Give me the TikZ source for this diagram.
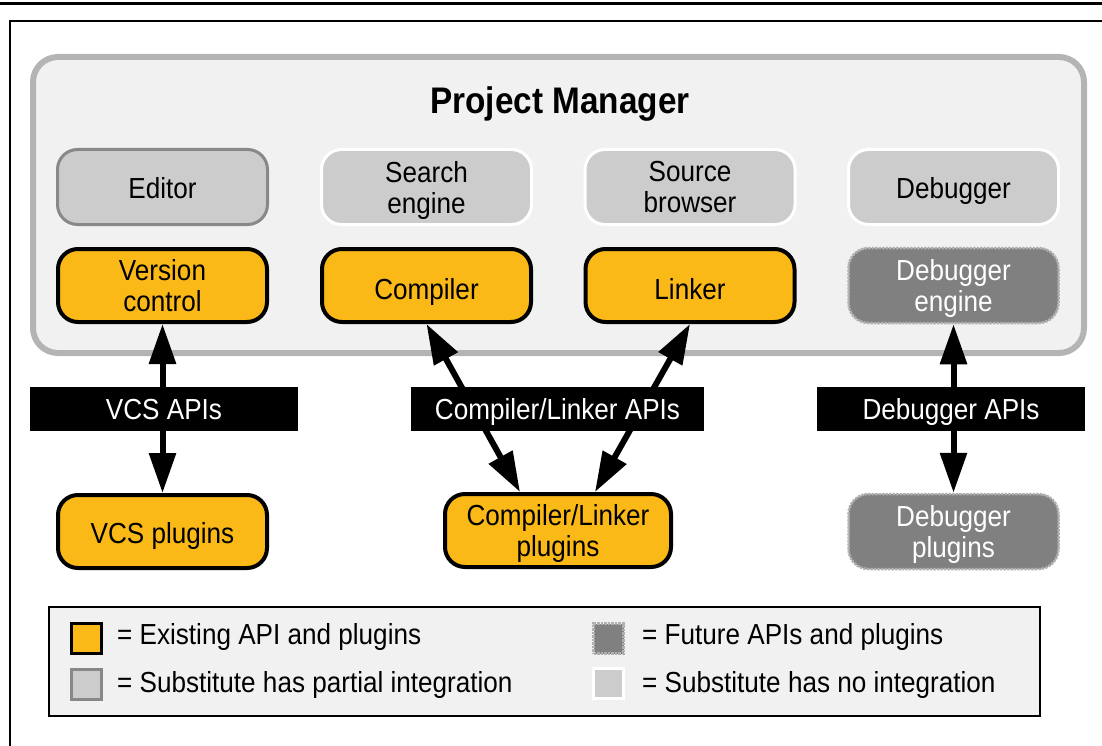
\documentclass[tikz,border=0pt]{standalone}
\usepackage{fontspec}
\setmainfont{Liberation Sans}[FakeStretch=0.9]
\usetikzlibrary{arrows.meta}
\definecolor{pmfill}{HTML}{F1F1F1}
\definecolor{pmdraw}{HTML}{B4B4B4}
\definecolor{subfill}{HTML}{CCCCCC}
\definecolor{partdraw}{HTML}{888888}
\definecolor{exorange}{HTML}{FBB917}
\definecolor{futfill}{HTML}{808080}
\definecolor{futdraw}{HTML}{B0B0B0}
\begin{document}
\begin{tikzpicture}[x=1pt,y=-1pt,
  font=\fontsize{29}{31}\selectfont,
  box/.style={rectangle, rounded corners=20pt, align=center, inner sep=0pt,
    minimum width=210pt, minimum height=75pt, text depth=0pt},
  oneline/.style={text height=#1},
  oneline/.default=24pt,
  partial/.style={box, fill=subfill, draw=partdraw, line width=3pt},
  noint/.style={box, fill=subfill, draw=white, line width=3pt},
  existing/.style={box, fill=exorange, draw=black, line width=4pt,
    minimum width=209pt, minimum height=73pt},
  future/.style={box, fill=futfill, draw=futdraw, line width=2.5pt,
    densely dotted, text=white},
  apibar/.style={rectangle, fill=black, text=white, minimum height=44pt,
    inner sep=0pt, text height=21pt, text depth=0pt},
  api/.style={line width=6pt,
    {Triangle[length=40pt,width=26pt]}-{Triangle[length=40pt,width=26pt]}},
  legsq/.style={rectangle, minimum size=30pt, inner sep=0pt},
  legtext/.style={anchor=west, inner sep=0pt},
]
\useasboundingbox (0,0) rectangle (1102,746);
% top rule and frame
\fill[black] (0,2) rectangle (1102,5);
\draw[line width=1.5pt] (10,746) -- (10,21) -- (1102,21);

% project manager box
\draw[draw=pmdraw, fill=pmfill, line width=6pt, rounded corners=25pt]
  (33,57) rectangle (1084,353);
\node[font=\bfseries\fontsize{37}{41}\selectfont] (pm) at (560,104) {Project Manager};

% row 1
\node[partial, oneline] (editor) at (162.5,187) {Editor};
\node[noint] (search) at (426.5,187) {Search\\engine};
\node[noint] (source) at (690,187) {Source\\browser};
\node[noint, oneline] (debugger) at (953.5,187) {Debugger};

% row 2
\node[existing] (vc) at (162.5,285.5) {Version\\control};
\node[existing, oneline=28pt] (compiler) at (426.5,285.5) {Compiler};
\node[existing, oneline=28pt] (linker) at (690,285.5) {Linker};
\node[future] (dbgeng) at (953.5,285.5) {Debugger\\engine};

% plugins
\node[existing, oneline] (vcsplug) at (162.5,531.5) {VCS plugins};
\node[existing, minimum width=226pt] (clplug) at (558,530.5) {Compiler/Linker\\plugins};
\node[future] (dbgplug) at (953.5,531.5) {Debugger\\plugins};

% arrows
\draw[api] (vc.south) -- (vcsplug.north);
\draw[api] (compiler.south) -- ([xshift=-38pt]clplug.north);
\draw[api] (linker.south) -- ([xshift=37pt]clplug.north);
\draw[api] (dbgeng.south) -- (dbgplug.north);

% API bars
\node[apibar, minimum width=268pt] (vcsapi) at (164,409) {VCS APIs};
\node[apibar, minimum width=293pt] (clapi) at (557.5,409) {Compiler/Linker APIs};
\node[apibar, minimum width=268pt] (dbgapi) at (951,409) {Debugger APIs};

% legend
\draw[line width=1.5pt, fill=pmfill] (49,607) rectangle (1040,716);
\node[legsq, fill=exorange, draw=black, line width=3pt] (l1) at (86.5,638.5) {};
\node[legtext] (t1) at (117,637) {= Existing API and plugins};
\node[legsq, fill=subfill, draw=partdraw, line width=3pt] (l2) at (86.5,684.5) {};
\node[legtext] (t2) at (117,685) {= Substitute has partial integration};
\node[legsq, fill=futfill, draw=futdraw, line width=2.5pt, densely dotted] (l3) at (608.5,638.5) {};
\node[legtext] (t3) at (642,637) {= Future APIs and plugins};
\node[legsq, fill=subfill, draw=white, line width=3pt] (l4) at (608.5,683.5) {};
\node[legtext] (t4) at (642,685) {= Substitute has no integration};
\end{tikzpicture}
\end{document}
